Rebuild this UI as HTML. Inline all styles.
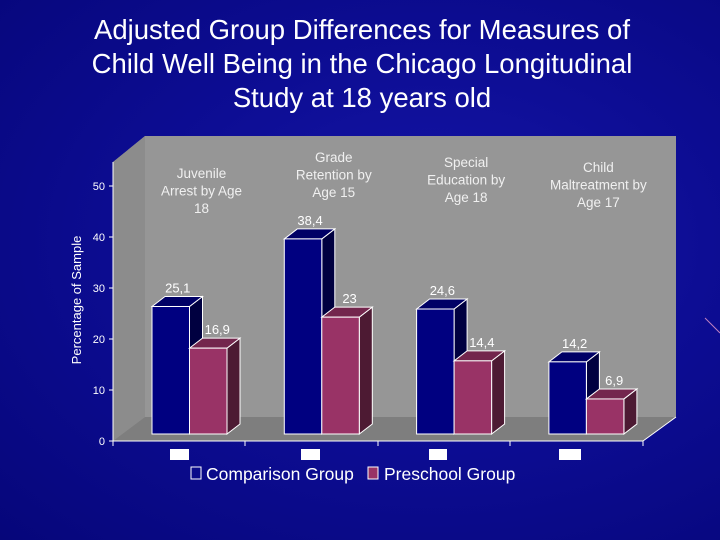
<!DOCTYPE html>
<html><head><meta charset="utf-8"><style>
html,body{margin:0;padding:0;}
body{width:720px;height:540px;overflow:hidden;background:radial-gradient(ellipse at 60% 45%,#1616a8 0%,#0d0d94 45%,#06067a 100%);font-family:"Liberation Sans",sans-serif;}
#title{position:absolute;left:0;top:13px;width:724px;text-align:center;color:#fff;font-size:27.5px;line-height:34px;}
svg{position:absolute;left:0;top:0;}
</style></head><body>
<div id="title">Adjusted Group Differences for Measures of<br>Child Well Being in the Chicago Longitudinal<br>Study at 18 years old</div>
<svg id="chart" width="720" height="540"></svg>
<script>
const categories=[["Juvenile","Arrest by Age","18"],["Grade","Retention by","Age 15"],["Special","Education by","Age 18"],["Child","Maltreatment by","Age 17"]];
const comparisonValues=[25.1,38.4,24.6,14.2];
const preschoolValues=[16.9,23,14.4,6.9];
const comparisonLabels=["25,1","38,4","24,6","14,2"];
const preschoolLabels=["16,9","23","14,4","6,9"];
const yTicks=[0,10,20,30,40,50];

const NS="http://www.w3.org/2000/svg";
const svg=document.getElementById('chart');
function mk(t,a,p){const e=document.createElementNS(NS,t);for(const k in a)e.setAttribute(k,a[k]);(p||svg).appendChild(e);return e;}
const axisY=v=>441-v*5.1;
const barY=v=>434-v*5.08;
const groupX=i=>152+i*132.3;
const BW=37.5,DX=13,DY=10;

const wall=mk('polygon',{points:"113,162 145,136 676,136 676,417 643,441 113,441",fill:"#969696"});


const lw=mk('polygon',{points:"113,162 145,136 145,417 113,441",fill:"#8c8c8c"});


const fl=mk('polygon',{points:"113,441 145,417 676,417 643,441",fill:"#7e7e7e"});


mk('line',{x1:113,y1:162,x2:113,y2:441,stroke:"#fff","stroke-width":1});
mk('line',{x1:113,y1:441,x2:643,y2:441,stroke:"#fff","stroke-width":1});
mk('line',{x1:643,y1:441,x2:676,y2:417,stroke:"#fff","stroke-width":1});
[113,245,378,510,643].forEach(x=>mk('line',{x1:x,y1:441,x2:x,y2:446,stroke:"#fff"}));

yTicks.forEach(v=>{
  const y=axisY(v);
  mk('line',{x1:109,y1:y,x2:113,y2:y,stroke:"#fff"});
  const t=mk('text',{x:105,y:y+4,fill:"#fff","font-size":"11","text-anchor":"end"});
  t.textContent=v;
  
  
});
const yt=mk('text',{x:0,y:0,fill:"#fff","font-size":"13","text-anchor":"middle",transform:"translate(81,300) rotate(-90)"});
yt.textContent="Percentage of Sample";



function bar(x,v,front,side,top,name){
  const g=mk('g',{});
  
  
  const y=barY(v),b=434;
  mk('polygon',{points:`${x+BW},${b} ${x+BW+DX},${b-DY} ${x+BW+DX},${y-DY} ${x+BW},${y}`,fill:side,stroke:"#fff","stroke-width":1},g);
  mk('polygon',{points:`${x},${y} ${x+DX},${y-DY} ${x+BW+DX},${y-DY} ${x+BW},${y}`,fill:top,stroke:"#fff","stroke-width":1},g);
  mk('rect',{x:x,y:y,width:BW,height:b-y,fill:front,stroke:"#fff","stroke-width":1},g);
}
categories.forEach((c,i)=>{
  const x=groupX(i);
  bar(x,comparisonValues[i],"#000080","#000040","#000066",'bar-comparison-'+(i+1));
  bar(x+BW,preschoolValues[i],"#993366","#4d1a33","#73264d",'bar-preschool-'+(i+1));
  const l1=mk('text',{x:x+BW/2+7,y:barY(comparisonValues[i])-14,fill:"#fff","font-size":"13","text-anchor":"middle"});
  l1.textContent=comparisonLabels[i];
  
  
  const l2=mk('text',{x:x+BW*1.5+9,y:barY(preschoolValues[i])-14,fill:"#fff","font-size":"13","text-anchor":"middle"});
  l2.textContent=preschoolLabels[i];
  
  
  const cx=x+BW+12;
  const topY=[178,162,167,172][i];
  c.forEach((line,k)=>{
    const t=mk('text',{x:cx,y:topY+k*17.5,fill:"#f0f0f0","font-size":"13.5","text-anchor":"middle"});
    t.textContent=line;
    
    
  });
  const r=mk('rect',{x:[170,301,429,559][i],y:449,width:[19,19,18,22][i],height:11,fill:"#fff"});
  
  
});
const lg=mk('g',{});


mk('rect',{x:191,y:467,width:10,height:12,fill:"none",stroke:"#fff","stroke-width":1},lg);
const lt1=mk('text',{x:206,y:480,fill:"#fff","font-size":"17.5"},lg);lt1.textContent="Comparison Group";


mk('rect',{x:368,y:467,width:10,height:12,fill:"#993366",stroke:"#fff","stroke-width":1},lg);
const lt2=mk('text',{x:384,y:480,fill:"#fff","font-size":"17.5"},lg);lt2.textContent="Preschool Group";


mk('line',{x1:705,y1:318,x2:720,y2:333,stroke:"#c080c0","stroke-width":1});
</script>
</body></html>
